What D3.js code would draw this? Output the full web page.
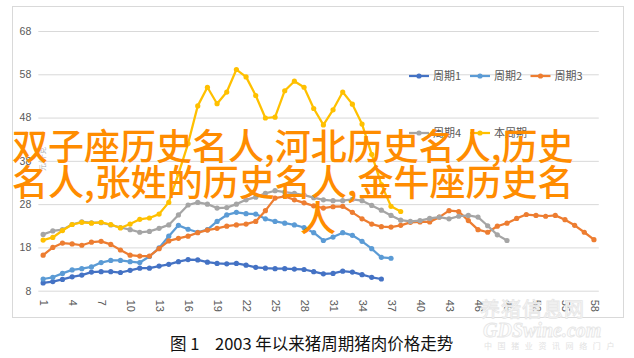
<!DOCTYPE html>
<html><head><meta charset="utf-8">
<script src="https://cdn.jsdelivr.net/npm/d3@7/dist/d3.min.js"></script>
<style>
html,body{margin:0;padding:0;background:#fff;}
svg{display:block;}
text{font-family:"Noto Sans CJK SC","Noto Sans",sans-serif;}
</style></head>
<body>
<svg id="chart" width="634" height="358"></svg>
<script>
// ---- data ----
const categories = d3.range(1, 59);            // weeks 1..58
const tickLabels = [1,4,7,10,13,16,19,22,25,28,31,34,37,40,43,46,49,52,55,58];
const yTicks = [8,18,28,38,48,58,68];
const seriesNames = ["周期1","周期2","周期3","周期4","本周期"];
const cycle1 = [9.8,10.1,10.6,11.2,11.6,12.3,12.4,12.4,12.2,12.7,13.2,13.2,13.7,14.1,14.7,15.2,15.1,14.6,14.3,14.2,14.3,13.9,13.4,13.2,13.1,13.1,13.0,12.9,12.4,11.9,12.0,12.5,12.3,11.7,11.1,10.7];
const cycle2 = [10.7,11.1,12.0,12.8,13.1,13.5,14.5,15.0,15.0,14.7,14.5,15.9,17.9,20.6,23.1,22.2,21.5,22.1,24.0,25.5,26.1,25.8,25.7,24.6,24.0,23.6,23.2,22.6,21.4,19.6,20.4,21.4,20.8,19.4,17.7,15.7,15.5];
const cycle3 = [16.2,18.0,19.0,18.8,18.5,19.2,19.4,18.7,17.4,16.2,16.0,16.0,17.7,19.5,20.1,20.6,21.4,22.0,22.4,22.9,23.2,23.4,24.0,26.5,29.4,29.8,29.0,28.3,27.6,27.1,27.4,27.5,26.1,24.6,23.4,22.8,22.7,23.1,23.8,23.9,23.9,25.0,26.5,26.3,24.2,22.1,21.5,22.9,23.6,24.7,25.6,25.4,25.2,25.4,24.4,23.1,21.5,19.8];
const cycle4 = [21.0,21.8,22.1,23.3,23.9,23.7,23.7,23.2,22.6,22.1,21.5,21.7,22.4,23.2,25.5,27.8,28.4,28.0,27.1,27.2,28.0,29.0,29.6,30.5,31.1,30.8,30.5,30.1,29.5,29.0,28.8,28.8,29.1,28.8,27.7,26.6,25.4,24.3,24.0,24.2,24.7,25.0,24.6,25.2,25.4,25.0,23.0,20.9,19.6];
const current = [19.7,20.3,21.9,23.3,23.8,23.6,23.8,23.3,22.5,23.4,24.5,24.8,25.7,28.4,35.0,42.0,50.7,55.0,51.2,53.9,59.1,57.4,53.1,47.9,48.1,54.2,56.4,55.0,50.1,46.3,49.8,53.9,51.1,46.5,39.5,32.5,27.5,26.3];
const colors = ["#4472C4","#5B9BD5","#ED7D31","#A5A5A5","#FFC000"];
const overlayLines = ["双子座历史名人,河北历史名人,历史","名人,张姓的历史名人,金牛座历史名","人"];
const captionFig = "图 1";
const captionText = "2003 年以来猪周期猪肉价格走势";

const seriesData = [cycle1, cycle2, cycle3, cycle4, current];

const svg = d3.select("#chart");

// outer chart border
svg.append("rect").attr("x",12.5).attr("y",6.5).attr("width",611).attr("height",311)
  .attr("fill","#fff").attr("stroke","#d9d9d9").attr("stroke-width",1);

const x = d3.scalePoint().domain(categories).range([38.3, 598.8]).padding(0.5);
const y = d3.scaleLinear().domain([8, 68]).range([290.7, 31]);

// y axis + gridlines
const yAxis = svg.append("g").attr("transform","translate(38.3,0)")
  .call(d3.axisLeft(y).tickValues(yTicks).tickSizeInner(-(598.8-38.3)).tickSizeOuter(0).tickPadding(7));
yAxis.select(".domain").remove();
yAxis.selectAll("line").attr("stroke","#d9d9d9").attr("stroke-width",1);
yAxis.selectAll("text").attr("fill","#595959").style("font-size","10.5px")
  .style("font-family","'Liberation Sans',Arial,sans-serif");

// x axis
const xAxis = svg.append("g").attr("transform","translate(0,290.7)")
  .call(d3.axisBottom(x).tickValues(tickLabels).tickSize(0));
xAxis.select(".domain").remove();
xAxis.selectAll("text")
  .attr("fill","#595959").style("font-size","11px")
  .style("font-family","'Liberation Sans',Arial,sans-serif")
  .attr("text-anchor","start")
  .attr("transform","translate(0,9) rotate(90)")
  .attr("x",0).attr("y",0).attr("dy","0.35em");

// y axis title watermark (faint)
svg.append("text").attr("transform","translate(45,171) rotate(-90)")
  .attr("fill","#b0b0b0").style("font-size","7px").text("元/千克");

// series
const line = d3.line().x((d,i)=>x(i+1)).y(d=>y(d));
seriesData.forEach((data, k) => {
  const g = svg.append("g");
  g.append("path").datum(data).attr("d", line).attr("fill","none")
    .attr("stroke", colors[k]).attr("stroke-width",2.25).attr("stroke-linejoin","round");
  g.selectAll("circle").data(data).join("circle")
    .attr("cx",(d,i)=>x(i+1)).attr("cy",d=>y(d)).attr("r",2.6).attr("fill",colors[k]);
});

// legend
const legendPos = [[409,76],[470,76],[530.5,76],[409,133],[470,133]];
seriesNames.forEach((name,k)=>{
  const [lx,ly] = legendPos[k];
  const g = svg.append("g");
  g.append("line").attr("x1",lx).attr("x2",lx+20).attr("y1",ly).attr("y2",ly)
    .attr("stroke",colors[k]).attr("stroke-width",2.25);
  g.append("circle").attr("cx",lx+10).attr("cy",ly).attr("r",2.6).attr("fill",colors[k]);
  g.append("text").attr("x",lx+24).attr("y",ly).attr("dy","0.36em")
    .attr("fill","#595959").style("font-size","11px").text(name);
});

// caption
svg.append("text").attr("x",170).attr("y",350).attr("fill","#111")
  .style("font-size","16.5px").text(captionFig);
svg.append("text").attr("x",215).attr("y",350).attr("fill","#111")
  .style("font-size","16.5px").text(captionText);

// watermark bottom right
svg.append("text").attr("x",480).attr("y",317).attr("fill","#fbfbfb").attr("stroke","#e6e6e6")
  .attr("stroke-width",0.8).style("font-size","20px").style("letter-spacing","1px").text("养猪信息网");
svg.append("text").attr("x",483).attr("y",337).attr("fill","#fdfdfd").attr("stroke","#e6e6e6")
  .attr("stroke-width",0.8).style("font-size","20px").style("font-style","italic").style("font-weight","bold")
  .style("font-family","'Liberation Serif','DejaVu Serif',serif").text("GDSwine.com");
svg.append("text").attr("x",484).attr("y",349).attr("fill","#e2e2e2")
  .style("font-size","8px").style("letter-spacing","5.6px").text("中国猪业资讯网络门户");

// overlay headline text
const overlayPos = [[12,160],[12,196],[300,232]];
overlayLines.forEach((t,i)=>{
  svg.append("text").attr("x",overlayPos[i][0]).attr("y",overlayPos[i][1])
    .attr("fill","#FF8C00").style("font-size","36px").style("font-weight","500").text(t);
});
</script>
</body></html>
